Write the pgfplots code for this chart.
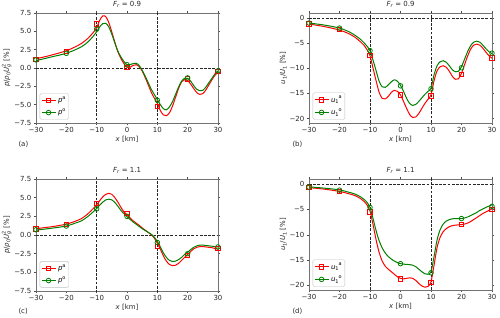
\documentclass[border=0pt]{standalone}
\usepackage{fontspec}
\setmainfont{DejaVu Sans}
\usepackage{pgfplots}
\pgfplotsset{compat=1.18}
\definecolor{mplgreen}{RGB}{0,128,0}
\newcommand{\fs}{\fontsize{7}{8}\selectfont}
\newcommand{\ssz}{\fontsize{5}{5}\selectfont}
\newcommand{\supsub}[2]{\rlap{\raisebox{0.45em}{\ssz #1}}\raisebox{-0.24em}{\ssz #2}\hspace{0.15em}}
\newcommand{\subthensup}[2]{\raisebox{-0.24em}{\ssz #2}\raisebox{0.5em}{\ssz #1}}
\pgfplotsset{
  panel/.style={
    scale only axis, anchor=south west,
    xmin=-30, xmax=30,
    xtick={-30,-20,-10,0,10,20,30},
    xticklabels={−30,−20,−10,0,10,20,30},
    tick align=outside, major tick length=2.2bp,
    tick style={black!70, line width=0.5bp},
    axis line style={black!55, line width=0.6bp},
    tick label style={font=\fs, text=black!85},
    xticklabel style={yshift=1bp},
    yticklabel style={xshift=1bp},
    label style={font=\fs, text=black!85},
    title style={font=\fs, text=black!85, yshift=-4bp},
    xlabel={{\itshape x} [km]},
    xlabel style={yshift=4bp},
    ylabel style={yshift=-4bp},
    every axis plot/.append style={line width=1bp},
    legend cell align=left,
    legend style={font=\fs, at={(0.02,0.03)}, anchor=south west, draw=black!25, rounded corners=1.5bp, inner sep=1.2bp, row sep=0.8pt},
    legend image code/.code={\draw[mark repeat=2,mark phase=2] plot coordinates {(0bp,0bp)(7bp,0bp)(14bp,0bp)};},
  },
  pp/.style={ymin=-7.5, ymax=7.5, ytick={-7.5,-5,-2.5,0,2.5,5,7.5},
    yticklabels={−7.5,−5.0,−2.5,0.0,2.5,5.0,7.5}, ylabel={{\itshape p}/{\itshape ρ}\raisebox{-0.24em}{\ssz 0}{\itshape U}\supsub{2}{\itshape g} [\%]}},
  uu/.style={ymin=-20.9, ymax=1.0, ytick={-20,-15,-10,-5,0},
    yticklabels={−20,−15,−10,−5,0}, ylabel={{\itshape u}\raisebox{-0.24em}{\ssz 1}/{\itshape U}\raisebox{-0.24em}{\ssz 1} [\%]}},
  dl/.style={black!85, dash pattern=on 2.8bp off 1.4bp, line width=0.8bp, forget plot},
  ra/.style={red, mark=square, mark size=2.2bp, mark options={fill=white, solid, line width=0.8bp}},
  go/.style={mplgreen, mark=o, mark size=2.3bp, mark options={fill=white, solid, line width=0.8bp}},
}
\begin{document}
\begin{tikzpicture}
\path[use as bounding box] (0,0) rectangle (500bp,318bp);
% (a)
\begin{axis}[panel, pp, at={(36bp,195bp)}, width=182bp, height=110bp, title={{\itshape F\textsubscript{r}} = 0.9}]
\addplot[dl] coordinates {(-10,-10) (-10,10)};
\addplot[dl] coordinates {(10,-10) (10,10)};
\addplot[dl] coordinates {(-30,0) (30,0)};
\addplot[red, smooth, forget plot] coordinates {(-30,1.25)(-25,1.75)(-20,2.35)(-17,2.9)(-15,3.35)(-13,4.0)(-11,4.9)(-10,5.5)(-9,6.5)(-8,7.1)(-7,7.0)(-6,6.2)(-5,4.9)(-4,3.5)(-3,2.2)(-2,1.3)(-1,0.6)(0,0.1)(1,0.1)(2,0.35)(3,0.45)(4,0.2)(5,-0.4)(6,-1.3)(7,-2.3)(8,-3.3)(9,-4.1)(10,-4.8)(11,-5.8)(12,-6.4)(13,-6.5)(14,-6.1)(15,-5.2)(16,-4.0)(17,-2.8)(18,-1.9)(19,-1.6)(20,-1.7)(21,-2.2)(22,-2.8)(23,-3.35)(24,-3.6)(25,-3.5)(26,-3.0)(27,-2.3)(28,-1.6)(29,-1.0)(30,-0.6)};
\addplot[mplgreen, smooth, forget plot] coordinates {(-30,1.0)(-25,1.5)(-20,2.0)(-17,2.5)(-15,2.9)(-13,3.5)(-11,4.4)(-10,4.95)(-9,5.6)(-8,6.05)(-7,6.1)(-6,5.6)(-5,4.6)(-4,3.4)(-3,2.3)(-2,1.5)(-1,0.9)(0,0.45)(1,0.45)(2,0.6)(3,0.65)(4,0.35)(5,-0.3)(6,-1.1)(7,-2.0)(8,-2.9)(9,-3.6)(10,-4.3)(11,-5.0)(12,-5.55)(13,-5.7)(14,-5.3)(15,-4.6)(16,-3.6)(17,-2.6)(18,-1.8)(19,-1.4)(20,-1.4)(21,-1.8)(22,-2.4)(23,-2.9)(24,-3.1)(25,-3.05)(26,-2.6)(27,-2.0)(28,-1.4)(29,-0.8)(30,-0.4)};
\addplot[ra, only marks, forget plot] coordinates {(-30,1.2)(-20,2.25)(-10,6.0)(0,0.1)(10,-5.2)(20,-1.5)(30,-0.5)};
\addplot[go, only marks, forget plot] coordinates {(-30,1.1)(-20,2.0)(-10,5.3)(0,0.45)(10,-4.4)(20,-1.35)(30,-0.4)};
\addlegendimage{ra}\addlegendentry{{\itshape p}\raisebox{0.45em}{\ssz a}}
\addlegendimage{go}\addlegendentry{{\itshape p}\raisebox{0.45em}{\ssz o}}
\end{axis}
% (b)
\begin{axis}[panel, uu, at={(309bp,195bp)}, width=183bp, height=110bp, title={{\itshape F\textsubscript{r}} = 0.9}]
\addplot[dl] coordinates {(-10,-30) (-10,10)};
\addplot[dl] coordinates {(10,-30) (10,10)};
\addplot[dl] coordinates {(-30,0) (30,0)};
\addplot[red, smooth, forget plot] coordinates {(-30,-1.2)(-25,-1.7)(-20,-2.4)(-17,-3.1)(-15,-3.8)(-13,-4.8)(-12,-5.4)(-11,-6.3)(-10,-7.5)(-9,-10.0)(-8,-12.5)(-7,-14.8)(-6,-16.0)(-5,-16.1)(-4,-15.6)(-3,-14.8)(-2,-14.4)(-1,-14.6)(0,-15.3)(1,-16.6)(2,-18.0)(3,-19.2)(4,-19.8)(5,-19.7)(6,-19.0)(7,-18.0)(8,-17.0)(9,-16.2)(10,-15.3)(11,-12.5)(12,-10.5)(13,-9.7)(14,-9.5)(15,-9.8)(16,-10.6)(17,-11.6)(18,-12.2)(19,-12.1)(20,-11.0)(21,-9.3)(22,-7.6)(23,-6.2)(24,-5.4)(25,-5.2)(26,-5.4)(27,-6.0)(28,-6.8)(29,-7.5)(30,-8.0)};
\addplot[mplgreen, smooth, forget plot] coordinates {(-30,-1.0)(-25,-1.4)(-20,-2.0)(-17,-2.7)(-15,-3.4)(-13,-4.3)(-12,-4.9)(-11,-5.6)(-10,-6.5)(-9,-8.4)(-8,-10.5)(-7,-12.6)(-6,-13.7)(-5,-13.8)(-4,-13.3)(-3,-12.7)(-2,-12.3)(-1,-12.6)(0,-13.4)(1,-14.6)(2,-16.0)(3,-17.0)(4,-17.4)(5,-17.2)(6,-16.6)(7,-15.9)(8,-15.2)(9,-14.6)(10,-14.0)(11,-11.3)(12,-9.5)(13,-8.7)(14,-8.5)(15,-8.8)(16,-9.5)(17,-10.3)(18,-10.7)(19,-10.6)(20,-9.7)(21,-8.2)(22,-6.7)(23,-5.5)(24,-4.8)(25,-4.6)(26,-4.8)(27,-5.4)(28,-6.1)(29,-6.7)(30,-7.1)};
\addplot[ra, only marks, forget plot] coordinates {(-30,-1.2)(-20,-2.3)(-10,-7.5)(0,-15.3)(10,-15.5)(20,-11.2)(30,-7.9)};
\addplot[go, only marks, forget plot] coordinates {(-30,-1.0)(-20,-2.0)(-10,-6.5)(0,-13.5)(10,-14.1)(20,-9.9)(30,-7.0)};
\addlegendimage{ra}\addlegendentry{{\itshape u}\subthensup{a}{1}}
\addlegendimage{go}\addlegendentry{{\itshape u}\subthensup{o}{1}}
\end{axis}
% (c)
\begin{axis}[panel, pp, at={(36bp,27bp)}, width=182bp, height=112bp, title={{\itshape F\textsubscript{r}} = 1.1}]
\addplot[dl] coordinates {(-10,-10) (-10,10)};
\addplot[dl] coordinates {(10,-10) (10,10)};
\addplot[dl] coordinates {(-30,0) (30,0)};
\addplot[red, smooth, forget plot] coordinates {(-30,0.85)(-25,1.1)(-20,1.45)(-17,1.85)(-15,2.2)(-13,2.8)(-11,3.6)(-10,4.05)(-9,4.6)(-8,5.1)(-7,5.45)(-6,5.58)(-5,5.45)(-4,5.0)(-3,4.4)(-2,3.7)(-1,3.1)(0,2.7)(1,2.3)(2,1.9)(3,1.6)(4,1.3)(5,0.95)(6,0.65)(7,0.35)(8,0.05)(9,-0.4)(10,-1.1)(11,-1.9)(12,-2.8)(13,-3.5)(14,-3.95)(15,-4.1)(16,-4.05)(17,-3.8)(18,-3.4)(19,-3.0)(20,-2.6)(21,-2.2)(22,-1.85)(23,-1.65)(24,-1.55)(25,-1.55)(26,-1.6)(27,-1.65)(28,-1.7)(29,-1.8)(30,-1.9)};
\addplot[mplgreen, smooth, forget plot] coordinates {(-30,0.65)(-25,0.9)(-20,1.2)(-17,1.6)(-15,1.9)(-13,2.45)(-11,3.15)(-10,3.55)(-9,4.0)(-8,4.4)(-7,4.7)(-6,4.8)(-5,4.7)(-4,4.35)(-3,3.85)(-2,3.3)(-1,2.85)(0,2.45)(1,2.1)(2,1.75)(3,1.45)(4,1.15)(5,0.85)(6,0.6)(7,0.35)(8,0.1)(9,-0.3)(10,-0.85)(11,-1.6)(12,-2.4)(13,-3.0)(14,-3.4)(15,-3.55)(16,-3.5)(17,-3.3)(18,-3.0)(19,-2.6)(20,-2.3)(21,-1.95)(22,-1.65)(23,-1.45)(24,-1.35)(25,-1.35)(26,-1.4)(27,-1.45)(28,-1.5)(29,-1.55)(30,-1.6)};
\addplot[ra, only marks, forget plot] coordinates {(-30,0.8)(-20,1.4)(-10,4.2)(0,2.9)(10,-1.5)(20,-2.7)(30,-1.8)};
\addplot[go, only marks, forget plot] coordinates {(-30,0.7)(-20,1.2)(-10,3.5)(0,2.5)(10,-1.0)(20,-2.5)(30,-1.6)};
\addlegendimage{ra}\addlegendentry{{\itshape p}\raisebox{0.45em}{\ssz a}}
\addlegendimage{go}\addlegendentry{{\itshape p}\raisebox{0.45em}{\ssz o}}
\end{axis}
% (d)
\begin{axis}[panel, uu, at={(309bp,28bp)}, width=183bp, height=111bp, title={{\itshape F\textsubscript{r}} = 1.1}]
\addplot[dl] coordinates {(-10,-30) (-10,10)};
\addplot[dl] coordinates {(10,-30) (10,10)};
\addplot[dl] coordinates {(-30,0) (30,0)};
\addplot[red, smooth, forget plot] coordinates {(-30,-0.7)(-25,-1.0)(-20,-1.45)(-17,-1.9)(-15,-2.25)(-13,-2.9)(-12,-3.4)(-11,-4.1)(-10,-5.3)(-9,-8.0)(-8,-11.0)(-7,-13.5)(-6,-15.2)(-5,-16.2)(-4,-16.8)(-3,-17.3)(-2,-17.8)(-1,-18.3)(0,-18.6)(1,-18.7)(2,-18.6)(3,-18.5)(4,-18.6)(5,-19.0)(6,-19.6)(7,-20.1)(8,-20.35)(9,-20.2)(10,-19.3)(11,-16.0)(12,-12.5)(13,-10.5)(14,-9.4)(15,-8.8)(16,-8.4)(17,-8.2)(18,-8.1)(19,-8.05)(20,-8.0)(21,-7.9)(22,-7.7)(23,-7.4)(24,-7.0)(25,-6.6)(26,-6.2)(27,-5.8)(28,-5.5)(29,-5.2)(30,-4.9)};
\addplot[mplgreen, smooth, forget plot] coordinates {(-30,-0.55)(-25,-0.8)(-20,-1.15)(-17,-1.6)(-15,-1.95)(-13,-2.55)(-12,-3.0)(-11,-3.6)(-10,-4.6)(-9,-6.8)(-8,-9.2)(-7,-11.2)(-6,-12.6)(-5,-13.6)(-4,-14.3)(-3,-14.8)(-2,-15.2)(-1,-15.5)(0,-15.7)(1,-15.8)(2,-15.85)(3,-15.9)(4,-16.0)(5,-16.3)(6,-16.8)(7,-17.3)(8,-17.7)(9,-17.8)(10,-17.3)(11,-14.3)(12,-11.0)(13,-9.0)(14,-7.9)(15,-7.3)(16,-7.0)(17,-6.85)(18,-6.8)(19,-6.8)(20,-6.8)(21,-6.7)(22,-6.5)(23,-6.2)(24,-5.9)(25,-5.6)(26,-5.2)(27,-4.9)(28,-4.6)(29,-4.35)(30,-4.1)};
\addplot[ra, only marks, forget plot] coordinates {(-30,-0.7)(-20,-1.5)(-10,-5.5)(0,-18.7)(10,-19.4)(20,-8.0)(30,-5.0)};
\addplot[go, only marks, forget plot] coordinates {(-30,-0.6)(-20,-1.2)(-10,-4.6)(0,-15.7)(10,-17.5)(20,-6.8)(30,-4.4)};
\addlegendimage{ra}\addlegendentry{{\itshape u}\subthensup{a}{1}}
\addlegendimage{go}\addlegendentry{{\itshape u}\subthensup{o}{1}}
\end{axis}
\node[font=\fs, text=black!85, anchor=base west] at (15bp,171bp) {(a)};
\node[font=\fs, text=black!85, anchor=base west] at (289bp,171bp) {(b)};
\node[font=\fs, text=black!85, anchor=base west] at (15bp,5bp) {(c)};
\node[font=\fs, text=black!85, anchor=base west] at (289bp,5bp) {(d)};
\end{tikzpicture}
\end{document}
